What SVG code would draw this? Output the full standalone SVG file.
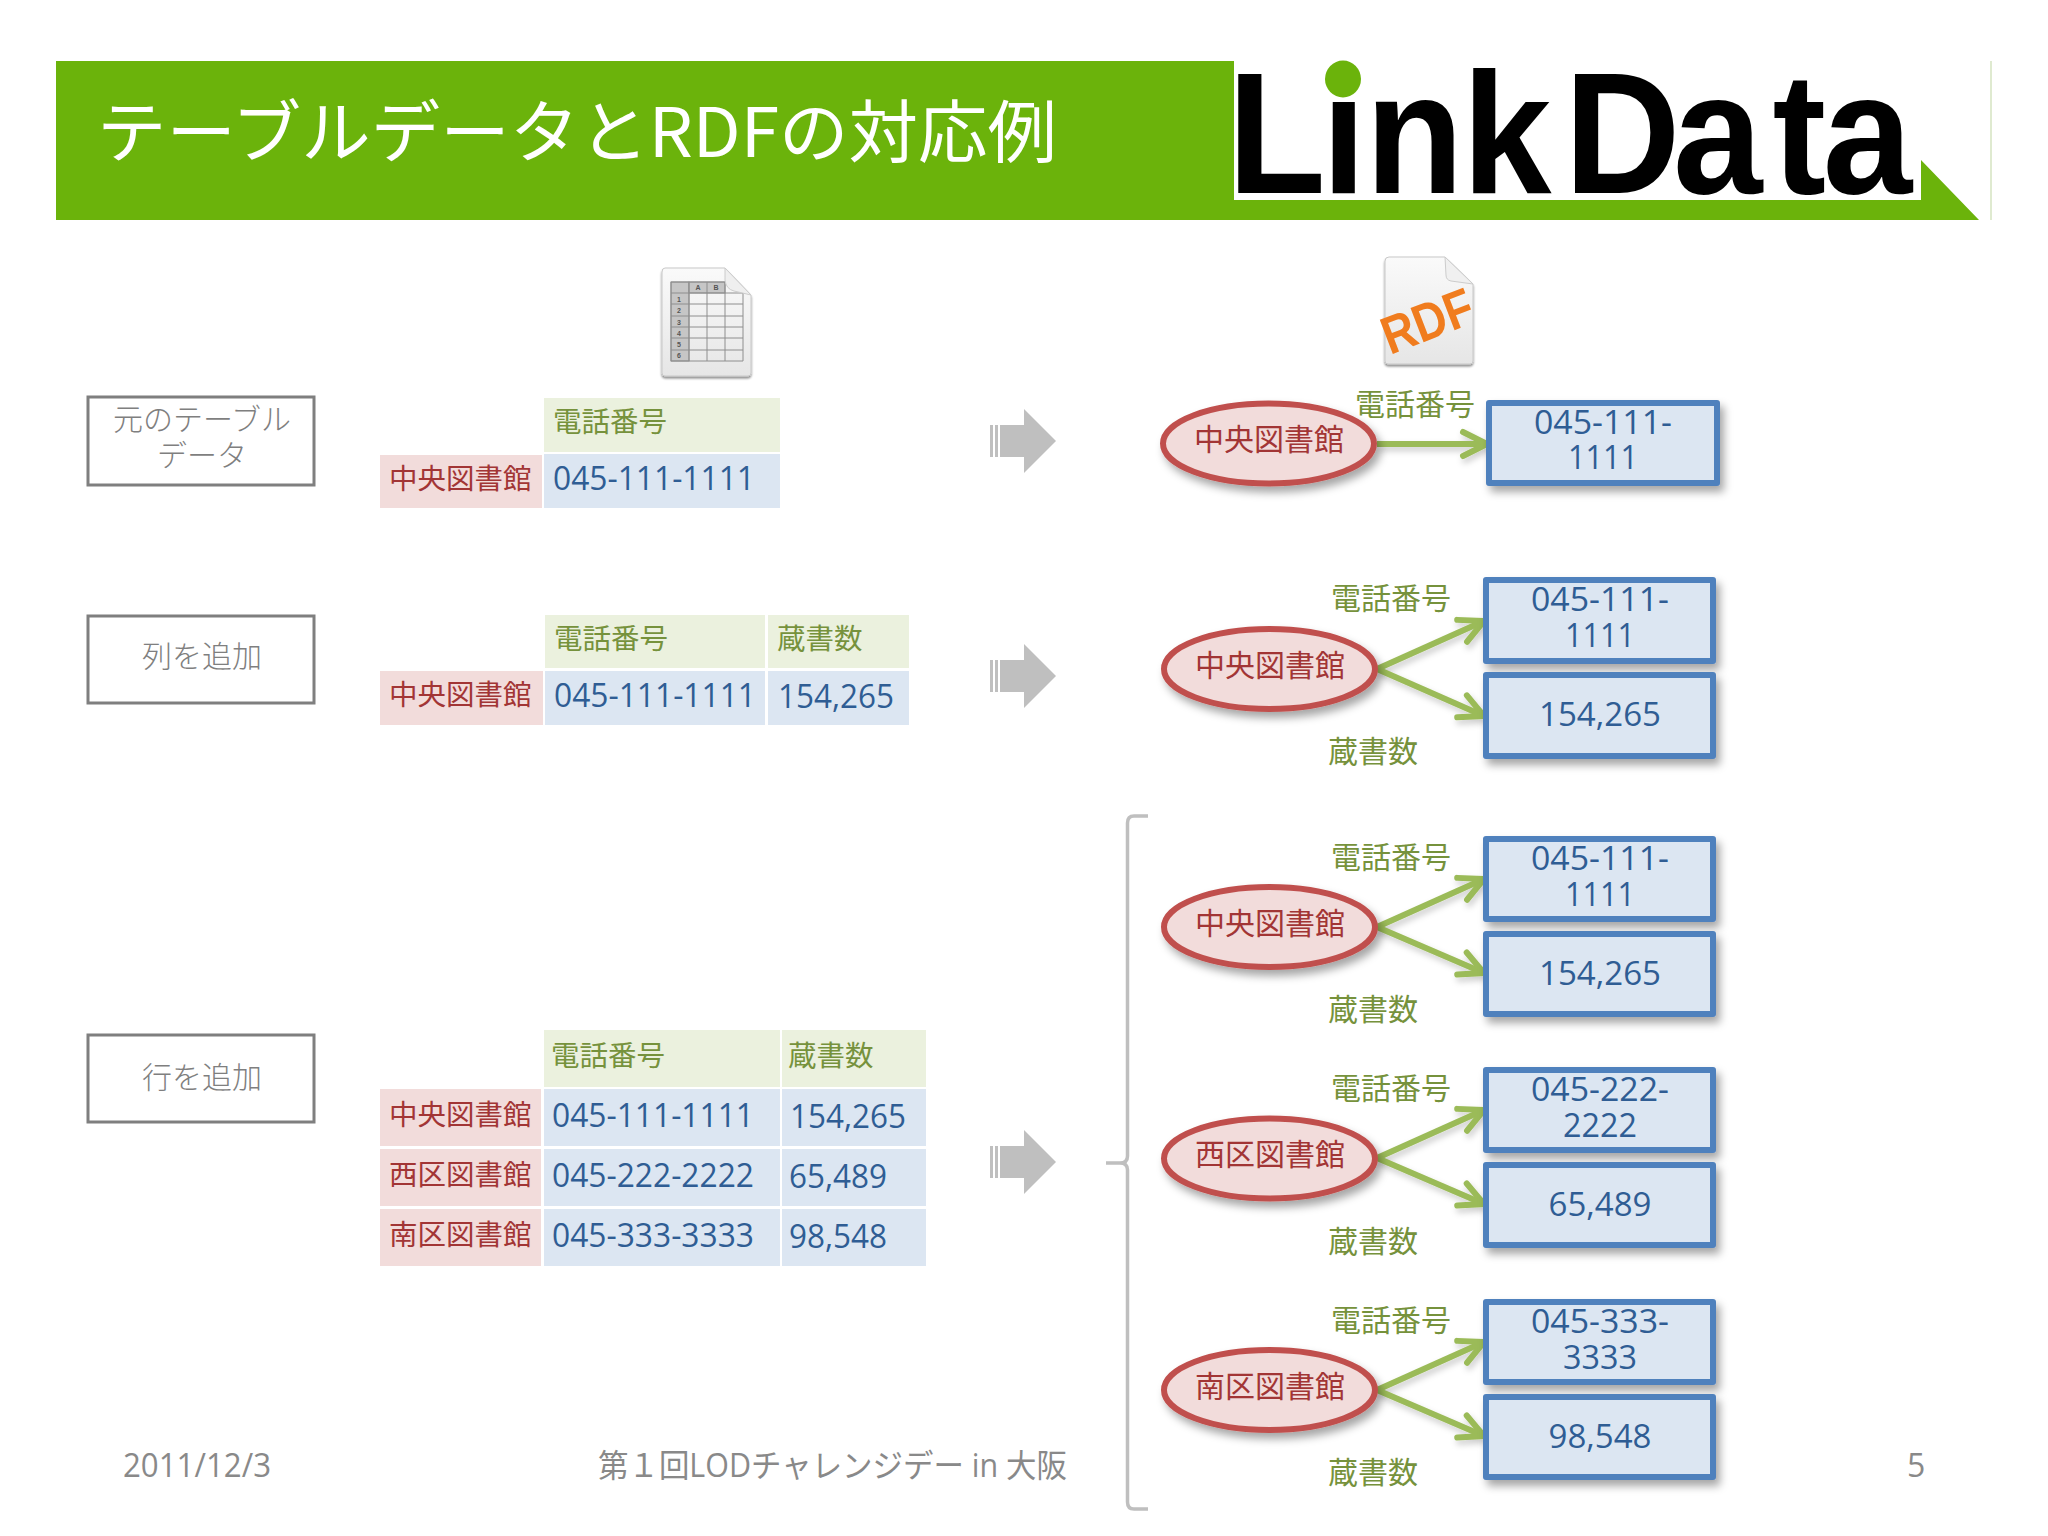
<svg xmlns="http://www.w3.org/2000/svg" width="2048" height="1536" viewBox="0 0 2048 1536">
<style>
text{font-family:"Noto Sans CJK JP","Noto Sans",sans-serif;font-weight:400}
.m{text-anchor:middle}
.n{font-family:"Open Sans","Noto Sans CJK JP",sans-serif;font-size:32px;fill:#2f5d94}
.rd{font-size:28.500px;fill:#a23535}
.hd{font-size:28.500px;fill:#76923c}
.lb{font-size:30px;fill:#76923c}
.el{font-size:30px;fill:#a23535}
.gr{font-size:30px;fill:#7f7f7f;font-weight:300}
.ft{font-size:32px;fill:#898989;font-family:"Open Sans","Noto Sans CJK JP",sans-serif}
.cr{fill:#f2dcdb}.cb{fill:#dce6f2}.cg{fill:#ebf1de}
.box{fill:none;stroke:#7f7f7f;stroke-width:3}
.oe{fill:#f2dcdb;stroke:#c0504d;stroke-width:6;filter:url(#sh)}
.or{fill:#dce6f2;stroke:#4f81bd;stroke-width:6;stroke-linejoin:round;filter:url(#sh)}
.ar{fill:none;stroke:#9bbb59;stroke-width:6;marker-end:url(#h);filter:url(#sh2)}
.ga{fill:#bfbfbf}
</style>
<defs>
<filter id="sh" x="-20%" y="-20%" width="140%" height="150%"><feDropShadow dx="4" dy="6" stdDeviation="4" flood-color="#000" flood-opacity=".35"/></filter>
<filter id="sh2" filterUnits="userSpaceOnUse" x="1300" y="380" width="260" height="1100"><feDropShadow dx="2" dy="4" stdDeviation="3" flood-color="#000" flood-opacity=".2"/></filter>
<filter id="sh3" x="-20%" y="-20%" width="140%" height="140%"><feDropShadow dx="0" dy="2" stdDeviation="1.2" flood-color="#000" flood-opacity=".45"/></filter>
<marker id="h" markerUnits="userSpaceOnUse" viewBox="-30 -20 40 40" refX="0" refY="0" markerWidth="40" markerHeight="40" orient="auto"><path d="M-24-12 L0 0 L-24 12" fill="none" stroke="#9bbb59" stroke-width="6" stroke-linecap="round"/></marker>
<linearGradient id="doc" x1="0" y1="0" x2="0" y2="1"><stop offset="0" stop-color="#fafafa"/><stop offset="1" stop-color="#e6e6e6"/></linearGradient>
<g id="arrow"><rect class="ga" x="-66" y="-16" width="3" height="32"/><rect class="ga" x="-61" y="-16" width="3" height="32"/><path class="ga" d="M-56-16H-32V-32L0 0L-32 32V16H-56Z"/></g>
</defs>
<rect width="2048" height="1536" fill="#fff"/>

<g id="header">
<path d="M56 61H1234V200H1921V160L1979 220H56Z" fill="#6bb30b"/>
<line x1="1991" y1="61" x2="1991" y2="220" stroke="#d5e3c0" stroke-width="1.5"/>
<text x="97" y="157" font-size="68" fill="#fff" textLength="960" lengthAdjust="spacingAndGlyphs">テーブルデータとRDFの対応例</text>
</g>
<g id="logo">
<text transform="scale(.93 1)" x="1320 1421 1468 1572 1682 1799 1906 1960" y="193" font-size="173" fill="#000" style="font-family:'Liberation Sans',sans-serif;font-weight:700">LinkData</text>
<ellipse cx="1343" cy="79" rx="18" ry="18.500" fill="#6bb30b"/>
</g>

<g id="icon-sheet" filter="url(#sh3)">
<path d="M665 268H725L751 295V373Q751 376 748 376H665Q662 376 662 373V272Q662 268 665 268Z" fill="url(#doc)" stroke="#c8c8c8"/>
</g>
<g id="sheet-grid" fill="none" stroke="#8e8e8e" stroke-width="1">
<rect x="671" y="282" width="18" height="79" fill="#c6c6c6"/><rect x="689" y="282" width="36" height="11" fill="#c6c6c6"/>
<path d="M671 282H725M671 293H743M671 304H743M671 316H743M671 327H743M671 338H743M671 350H743M671 361H743M671 282V361M689 282V361M707 282V361M725 282V361M743 293V361"/>
<path d="M725 268L751 295L734 291Q726 289 725 280Z" fill="#efefef" stroke="#ccc"/>
</g>
<g id="sheet-labels" font-size="7" fill="#555" text-anchor="middle">
<text x="698" y="290" style="font-family:'Liberation Sans',sans-serif;font-weight:700">A</text><text x="716" y="290" style="font-family:'Liberation Sans',sans-serif;font-weight:700">B</text>
<text x="679" y="302" style="font-family:'Liberation Sans',sans-serif;font-weight:700">1</text><text x="679" y="313" style="font-family:'Liberation Sans',sans-serif;font-weight:700">2</text><text x="679" y="325" style="font-family:'Liberation Sans',sans-serif;font-weight:700">3</text><text x="679" y="336" style="font-family:'Liberation Sans',sans-serif;font-weight:700">4</text><text x="679" y="347" style="font-family:'Liberation Sans',sans-serif;font-weight:700">5</text><text x="679" y="358" style="font-family:'Liberation Sans',sans-serif;font-weight:700">6</text>
</g>

<g id="icon-rdf">
<path d="M1389 257H1445L1473 284V361Q1473 364 1470 364H1388Q1385 364 1385 361V261Q1385 257 1389 257Z" fill="url(#doc)" stroke="#c8c8c8" filter="url(#sh3)"/>
<path d="M1445 257L1473 284L1451 281Q1446 280 1446 275Z" fill="#f0f0f0" stroke="#ccc"/>
<text transform="translate(1390 355) rotate(-21) scale(.88 1.02)" font-size="52" fill="#f07c1e" style="font-family:'Liberation Sans',sans-serif;font-weight:700">RDF</text>
</g>

<g id="label-1"><rect class="box" x="88" y="397" width="226" height="88"/><text class="gr m" x="202" y="430">元のテーブル</text><text class="gr m" x="202" y="466">データ</text></g>
<g id="label-2"><rect class="box" x="88" y="616" width="226" height="87"/><text class="gr m" x="202" y="667">列を追加</text></g>
<g id="label-3"><rect class="box" x="88" y="1035" width="226" height="87"/><text class="gr m" x="202" y="1088">行を追加</text></g>

<g id="table-1">
<rect class="cg" x="544" y="398" width="236" height="54"/>
<rect class="cr" x="380" y="455" width="162" height="53"/>
<rect class="cb" x="544" y="454" width="236" height="54"/>
<text class="hd" x="553" y="432">電話番号</text>
<text class="rd" x="389" y="489">中央図書館</text>
<text class="n" x="553" y="490" textLength="202" lengthAdjust="spacingAndGlyphs">045-111-1111</text>
</g>
<g id="table-2">
<rect class="cg" x="545" y="615" width="220" height="53"/><rect class="cg" x="768" y="615" width="141" height="53"/>
<rect class="cr" x="380" y="671" width="163" height="54"/>
<rect class="cb" x="545" y="671" width="220" height="54"/><rect class="cb" x="768" y="671" width="141" height="54"/>
<text class="hd" x="554" y="649">電話番号</text><text class="hd" x="777" y="649">蔵書数</text>
<text class="rd" x="389" y="705">中央図書館</text>
<text class="n" x="554" y="707" textLength="202" lengthAdjust="spacingAndGlyphs">045-111-1111</text>
<text class="n" x="778" y="708" textLength="116" lengthAdjust="spacingAndGlyphs">154,265</text>
</g>
<g id="table-3">
<rect class="cg" x="544" y="1030" width="236" height="57"/><rect class="cg" x="782" y="1030" width="144" height="57"/>
<rect class="cr" x="380" y="1089" width="161" height="57"/><rect class="cb" x="544" y="1089" width="236" height="57"/><rect class="cb" x="782" y="1089" width="144" height="57"/>
<rect class="cr" x="380" y="1149" width="161" height="57"/><rect class="cb" x="544" y="1149" width="236" height="57"/><rect class="cb" x="782" y="1149" width="144" height="57"/>
<rect class="cr" x="380" y="1209" width="161" height="57"/><rect class="cb" x="544" y="1209" width="236" height="57"/><rect class="cb" x="782" y="1209" width="144" height="57"/>
<text class="hd" x="551" y="1066">電話番号</text><text class="hd" x="788" y="1066">蔵書数</text>
<text class="rd" x="389" y="1125">中央図書館</text><text class="n" x="552" y="1127" textLength="202" lengthAdjust="spacingAndGlyphs">045-111-1111</text><text class="n" x="790" y="1128" textLength="116" lengthAdjust="spacingAndGlyphs">154,265</text>
<text class="rd" x="389" y="1185">西区図書館</text><text class="n" x="552" y="1187" textLength="202" lengthAdjust="spacingAndGlyphs">045-222-2222</text><text class="n" x="789" y="1188" textLength="98" lengthAdjust="spacingAndGlyphs">65,489</text>
<text class="rd" x="389" y="1245">南区図書館</text><text class="n" x="552" y="1247" textLength="202" lengthAdjust="spacingAndGlyphs">045-333-3333</text><text class="n" x="789" y="1248" textLength="98" lengthAdjust="spacingAndGlyphs">98,548</text>
</g>

<g id="big-arrows">
<use href="#arrow" x="1056" y="441"/><use href="#arrow" x="1056" y="676"/><use href="#arrow" x="1056" y="1162"/>
</g>
<path id="brace" d="M1148 816H1134Q1127.500 816 1127.500 823V1156Q1127.500 1163 1120 1163H1106M1120 1163Q1127.500 1163 1127.500 1170V1502Q1127.500 1509 1134 1509H1148" fill="none" stroke="#bfbfbf" stroke-width="3.500"/>

<g id="connectors">
<path class="ar" d="M1377 444H1487"/>
<path class="ar" d="M1377 669L1484 621"/><path class="ar" d="M1377 669L1484 716"/>
<path class="ar" d="M1377 927L1484 879"/><path class="ar" d="M1377 927L1484 973"/>
<path class="ar" d="M1377 1158L1484 1110"/><path class="ar" d="M1377 1158L1484 1204"/>
<path class="ar" d="M1377 1390L1484 1342"/><path class="ar" d="M1377 1390L1484 1436"/>
</g>

<g id="n1-s"><ellipse class="oe" cx="1268.500" cy="443.500" rx="105.500" ry="40"/><text class="el m" x="1269" y="450">中央図書館</text></g>
<g id="n1-o"><rect class="or" x="1489" y="403" width="228" height="80"/><text class="n m" x="1603" y="434" textLength="138" lengthAdjust="spacingAndGlyphs">045-111-</text><text class="n m" x="1603" y="469" textLength="70" lengthAdjust="spacingAndGlyphs">1111</text></g>
<text class="lb" x="1355" y="415">電話番号</text>

<g id="n2-s"><ellipse class="oe" cx="1269.500" cy="669" rx="105.500" ry="40"/><text class="el m" x="1270" y="676">中央図書館</text></g>
<g id="n2-a"><rect class="or" x="1486" y="580" width="227" height="81"/><text class="n m" x="1600" y="611" textLength="138" lengthAdjust="spacingAndGlyphs">045-111-</text><text class="n m" x="1600" y="647" textLength="70" lengthAdjust="spacingAndGlyphs">1111</text></g>
<g id="n2-b"><rect class="or" x="1486" y="675" width="227" height="81"/><text class="n m" x="1600" y="726" textLength="122" lengthAdjust="spacingAndGlyphs">154,265</text></g>
<text class="lb" x="1331" y="609">電話番号</text><text class="lb" x="1328" y="762">蔵書数</text>

<g id="n3-s"><ellipse class="oe" cx="1269.500" cy="927" rx="105.500" ry="40"/><text class="el m" x="1270" y="934">中央図書館</text></g>
<g id="n3-a"><rect class="or" x="1486" y="839" width="227" height="80"/><text class="n m" x="1600" y="870" textLength="138" lengthAdjust="spacingAndGlyphs">045-111-</text><text class="n m" x="1600" y="906" textLength="70" lengthAdjust="spacingAndGlyphs">1111</text></g>
<g id="n3-b"><rect class="or" x="1486" y="934" width="227" height="80"/><text class="n m" x="1600" y="985" textLength="122" lengthAdjust="spacingAndGlyphs">154,265</text></g>
<text class="lb" x="1331" y="868">電話番号</text><text class="lb" x="1328" y="1020">蔵書数</text>

<g id="n4-s"><ellipse class="oe" cx="1269.500" cy="1158.500" rx="105.500" ry="40"/><text class="el m" x="1270" y="1165">西区図書館</text></g>
<g id="n4-a"><rect class="or" x="1486" y="1070" width="227" height="80"/><text class="n m" x="1600" y="1101" textLength="138" lengthAdjust="spacingAndGlyphs">045-222-</text><text class="n m" x="1600" y="1137" textLength="74" lengthAdjust="spacingAndGlyphs">2222</text></g>
<g id="n4-b"><rect class="or" x="1486" y="1165" width="227" height="80"/><text class="n m" x="1600" y="1216" textLength="103" lengthAdjust="spacingAndGlyphs">65,489</text></g>
<text class="lb" x="1331" y="1099">電話番号</text><text class="lb" x="1328" y="1252">蔵書数</text>

<g id="n5-s"><ellipse class="oe" cx="1269.500" cy="1390" rx="105.500" ry="40"/><text class="el m" x="1270" y="1397">南区図書館</text></g>
<g id="n5-a"><rect class="or" x="1486" y="1302" width="227" height="80"/><text class="n m" x="1600" y="1333" textLength="138" lengthAdjust="spacingAndGlyphs">045-333-</text><text class="n m" x="1600" y="1369" textLength="74" lengthAdjust="spacingAndGlyphs">3333</text></g>
<g id="n5-b"><rect class="or" x="1486" y="1397" width="227" height="80"/><text class="n m" x="1600" y="1448" textLength="103" lengthAdjust="spacingAndGlyphs">98,548</text></g>
<text class="lb" x="1331" y="1331">電話番号</text><text class="lb" x="1328" y="1483">蔵書数</text>

<g id="footer">
<text class="ft" x="123" y="1477" textLength="148" lengthAdjust="spacingAndGlyphs">2011/12/3</text>
<text class="ft" x="598" y="1477" textLength="469" lengthAdjust="spacingAndGlyphs">第１回LODチャレンジデー in 大阪</text>
<text class="ft" x="1907" y="1477">5</text>
</g>
</svg>
